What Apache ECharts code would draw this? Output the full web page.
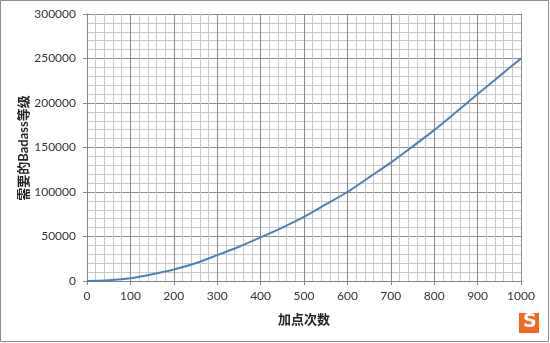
<!DOCTYPE html>
<html>
<head>
<meta charset="utf-8">
<script src="https://cdn.jsdelivr.net/npm/echarts@6/dist/echarts.min.js"></script>
<style>
html,body{margin:0;padding:0;background:#fff;}
#c{width:550px;height:343px;}
</style>
</head>
<body>
<div id="c"></div>
<script>
// Data
var points = [0, 50, 100, 150, 200, 250, 300, 350, 400, 450, 500, 550, 600, 650, 700, 750, 800, 850, 900, 950, 1000];
var rankNeeded = [0, 800, 3000, 7500, 13000, 20000, 29000, 38500, 49000, 60000, 72000, 86000, 100000, 116500, 133000, 151000, 169500, 189500, 210000, 230000, 250000];
var xAxisName = '加点次数';
var yAxisName = '需要的Badass等级';

var seriesData = points.map(function (p, i) { return [p, rankNeeded[i]]; });

var chart = echarts.init(document.getElementById('c'));
var font = 'Lato, "Noto Sans CJK SC", sans-serif';
function plain(v) { return String(v); }
chart.setOption({
  animation: false,
  backgroundColor: '#ffffff',
  grid: { left: 87, right: 29, top: 14, bottom: 62 },
  xAxis: {
    type: 'value', min: 0, max: 1000, interval: 100,
    name: xAxisName, nameLocation: 'middle', nameGap: 32,
    nameTextStyle: { fontFamily: font, fontSize: 13, fontWeight: 'bold', color: '#222' },
    axisLine: { show: true, lineStyle: { color: '#868686', width: 1 } },
    axisTick: { show: true, length: 4, lineStyle: { color: '#868686' } },
    axisLabel: { fontFamily: font, fontSize: 12, color: '#333', margin: 9, formatter: plain },
    splitLine: { show: true, lineStyle: { color: '#8a8a8a', width: 1 } },
    minorTick: { show: false, splitNumber: 5 },
    minorSplitLine: { show: true, lineStyle: { color: '#c8c8c8', width: 1 } }
  },
  yAxis: {
    type: 'value', min: 0, max: 300000, interval: 50000,
    axisLine: { show: true, lineStyle: { color: '#868686', width: 1 } },
    axisTick: { show: true, length: 4, lineStyle: { color: '#868686' } },
    axisLabel: { fontFamily: font, fontSize: 12, color: '#333', margin: 11, formatter: plain },
    splitLine: { show: true, lineStyle: { color: '#8a8a8a', width: 1 } },
    minorTick: { show: false, splitNumber: 5 },
    minorSplitLine: { show: true, lineStyle: { color: '#c8c8c8', width: 1 } }
  },
  series: [{
    type: 'line',
    data: seriesData,
    smooth: 0.3,
    showSymbol: false,
    lineStyle: { color: '#4f7fb8', width: 2 }
  }],
  graphic: [
    { type: 'text', x: 24, y: 148, rotation: Math.PI / 2,
      style: { text: yAxisName, fill: '#222', font: 'bold 13px ' + font, textAlign: 'center', textVerticalAlign: 'middle', verticalAlign: 'middle', align: 'center' }, z: 100 },
    { type: 'rect', shape: { x: 0.5, y: 0.5, width: 548, height: 341 }, style: { fill: 'none', stroke: '#8c8c8c', lineWidth: 1 }, z: 100 },
    { type: 'rect', shape: { x: 519, y: 313, width: 20, height: 20 }, style: { fill: '#f26a21' }, z: 100 },
    { type: 'text', left: 523, top: 313, style: { text: 'S', fill: '#fff', font: 'bold 19px "DejaVu Sans"' }, z: 101 }
  ]
});
</script>
</body>
</html>
